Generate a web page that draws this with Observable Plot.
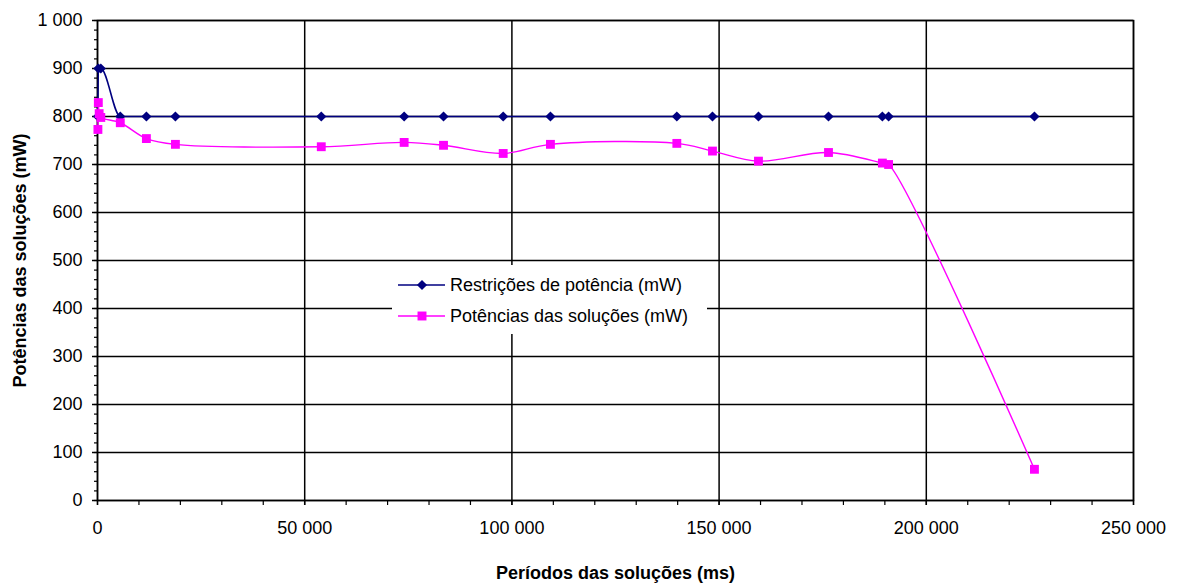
<!DOCTYPE html>
<html>
<head>
<meta charset="utf-8">
<script src="https://cdn.jsdelivr.net/npm/d3@7"></script>
<script src="https://cdn.jsdelivr.net/npm/@observablehq/plot@0.6"></script>
<style>
  html, body { margin: 0; padding: 0; background: white; }
  #wrap { position: relative; width: 1177px; height: 588px; font-family: "Liberation Sans", Arial, sans-serif; }
  #legend { position: absolute; left: 392px; top: 265px; width: 315px; height: 69px; background: white; }
  #legend .row { position: absolute; left: 0; height: 24px; display: flex; align-items: center; font-size: 18px; color: #000; white-space: nowrap; }
  #legend svg { display: block; margin-right: 2px; }
</style>
</head>
<body>
<div id="wrap"></div>
<script>
// ---- data ----
const seriesNames = ["Restrições de potência (mW)", "Potências das soluções (mW)"];
const restrX = [100, 200, 800, 5500, 11800, 18800, 54000, 74000, 83500, 97900, 109300, 139800, 148400, 159500, 176400, 189400, 190900, 226100];
const restrY = [800, 900, 900, 800, 800, 800, 800, 800, 800, 800, 800, 800, 800, 800, 800, 800, 800, 800];
const solX = [100, 200, 400, 800, 5500, 11800, 18800, 54000, 74000, 83500, 97900, 109300, 139800, 148400, 159500, 176400, 189400, 190900, 226100];
const solY = [773, 829, 806, 798, 787, 754, 742, 737, 746, 740, 723, 742, 744, 728, 707, 725, 703, 700, 65];
const xTicks = [0, 50000, 100000, 150000, 200000, 250000];
const xMinor = d3.range(0, 250001, 10000);
const yTicks = [0, 100, 200, 300, 400, 500, 600, 700, 800, 900, 1000];
const yMinor = d3.range(0, 1001, 20);
const xLabel = "Períodos das soluções (ms)";
const yLabel = "Potências das soluções (mW)";
const colors = ["#000080", "#ff00ff"];

const restr = restrX.map((x, i) => ({x, y: restrY[i]}));
const sol = solX.map((x, i) => ({x, y: solY[i]}));

const fmt = d3.formatLocale({decimal: ",", thousands: "\u00a0", grouping: [3], currency: ["", ""]}).format(",d");

const chart = Plot.plot({
  width: 1177,
  height: 588,
  marginLeft: 97,
  marginRight: 44,
  marginTop: 20,
  marginBottom: 88,
  style: {fontFamily: "'Liberation Sans', Arial, sans-serif", fontSize: "18px", background: "white", color: "#000", overflow: "visible"},
  x: {domain: [0, 250000]},
  y: {domain: [0, 1000]},
  marks: [
    Plot.gridY(yTicks, {stroke: "#000", strokeOpacity: 1, strokeWidth: 1.5}),
    Plot.gridX(xTicks, {stroke: "#000", strokeOpacity: 1, strokeWidth: 1.5}),
    Plot.frame({stroke: "#000", strokeWidth: 1.5}),
    Plot.axisY({ticks: yMinor, tickSize: 3, tickFormat: () => "", label: null, strokeWidth: 1.2}),
    Plot.axisX({ticks: xMinor, tickSize: 5, tickFormat: () => "", label: null, strokeWidth: 1.2}),
    Plot.axisY({ticks: yTicks, tickSize: 5, tickPadding: 10, tickFormat: fmt, label: null, strokeWidth: 1.5}),
    Plot.axisX({ticks: xTicks, tickSize: 5, tickPadding: 16, tickFormat: fmt, label: null, strokeWidth: 1.5}),
    Plot.text([yLabel], {frameAnchor: "left", textAnchor: "middle", lineAnchor: "middle", rotate: -90, dx: -77, fontWeight: "bold", fontSize: 18}),
    Plot.text([xLabel], {frameAnchor: "bottom", textAnchor: "middle", lineAnchor: "middle", dy: 73, fontWeight: "bold", fontSize: 18}),
    Plot.line(restr, {x: "x", y: "y", stroke: colors[0], strokeWidth: 1.6, curve: "monotone-x"}),
    Plot.line(sol, {x: "x", y: "y", stroke: colors[1], strokeWidth: 1.4, curve: "catmull-rom"}),
    Plot.dot(restr, {x: "x", y: "y", symbol: "diamond2", r: 4.6, fill: colors[0], stroke: "none"}),
    Plot.dot(sol, {x: "x", y: "y", symbol: "square", r: 5, fill: colors[1], stroke: "none"})
  ]
});

const wrap = document.getElementById("wrap");
wrap.appendChild(chart);

// legend
const legend = d3.select(wrap).append("div").attr("id", "legend");
const symbols = [d3.symbolDiamond2, d3.symbolSquare];
const symSizes = [66, 80];
const rowTops = [8, 39];
seriesNames.forEach((name, i) => {
  const row = legend.append("div").attr("class", "row").style("top", rowTops[i] + "px");
  const svg = row.append("svg").attr("width", 56).attr("height", 24);
  svg.append("line").attr("x1", 6).attr("x2", 53).attr("y1", 12).attr("y2", 12)
    .attr("stroke", colors[i]).attr("stroke-width", 1.6);
  svg.append("path").attr("d", d3.symbol(symbols[i], symSizes[i])())
    .attr("transform", "translate(30,12)").attr("fill", colors[i]);
  row.append("span").text(name);
});
</script>
</body>
</html>
